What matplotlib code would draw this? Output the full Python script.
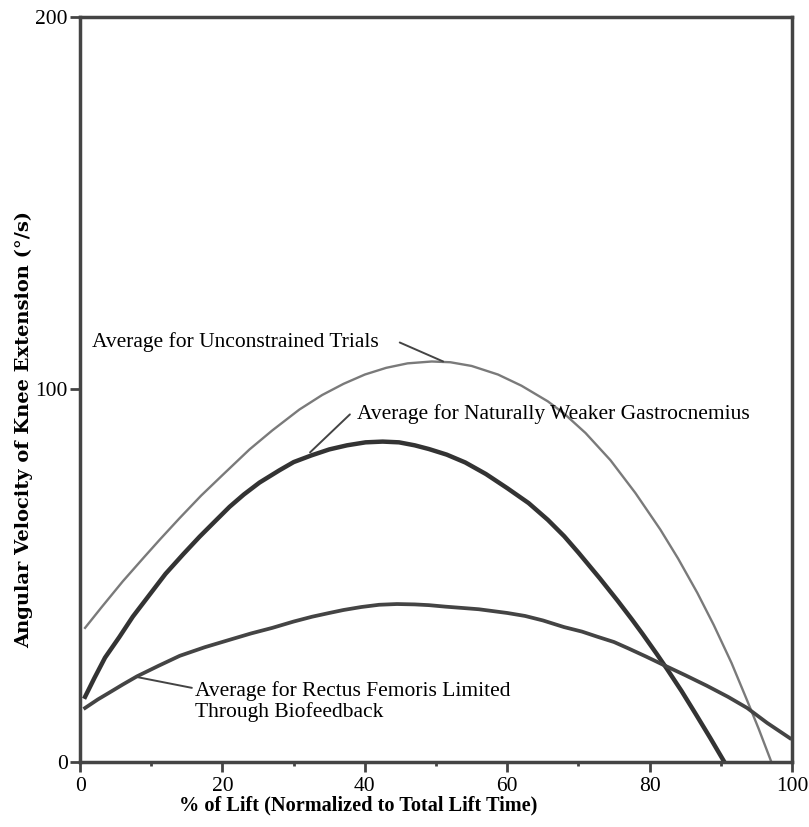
import matplotlib
matplotlib.use("Agg")
import matplotlib.pyplot as plt
from matplotlib.ticker import MultipleLocator

# curves (x = % of lift, y = deg/s)
unc_x = [0.7, 3, 6, 9, 11.2, 14, 17, 20, 23.8, 27, 30.8, 34, 37, 40, 43, 46, 49.4, 52,
         55, 58.7, 62, 65.7, 68, 71, 74.5, 78, 81.5, 84, 86.7, 89, 91.5, 93.7, 95.3, 97.1]
unc_y = [36, 41.5, 48.5, 55, 59.7, 65.5, 71.5, 77, 83.9, 89, 94.6, 98.5, 101.5, 104, 105.8,
         107, 107.5, 107.3, 106.3, 104, 101, 96.8, 93.5, 88.3, 81, 72.2, 62.4, 54.6, 45.4,
         36.8, 26.6, 16.5, 9, 0]

gas_x = [0.7, 2, 3.5, 5.5, 7.4, 10, 12, 14.5, 16.8, 19, 21, 23, 25.2, 28, 30, 32.5, 35,
         37.5, 40.1, 42.5, 44.8, 47, 49, 51.5, 54.1, 57, 60, 63, 65.7, 68, 70, 73, 75.5,
         77.5, 79, 81, 82.5, 84.5, 86.5, 88.5, 90.5]
gas_y = [17.5, 22.5, 28, 33.5, 39, 45.5, 50.5, 55.8, 60.5, 64.7, 68.5, 71.8, 75, 78.3, 80.5,
         82.3, 83.9, 85, 85.8, 86, 85.8, 85, 84, 82.5, 80.4, 77.3, 73.5, 69.5, 65, 60.6, 56.2,
         49.3, 43.3, 38.3, 34.4, 29, 24.8, 19, 12.8, 6.5, 0]

rec_x = [0.7, 2.5, 4, 6, 8, 11, 14, 17.5, 21, 24, 27, 30, 32.6, 35, 37, 39.5, 42, 44.5, 47,
         49, 51.3, 54, 56, 58, 60, 62.5, 65, 68, 70.5, 72.7, 75, 77, 79.5, 82, 85, 88, 91,
         93.7, 96.5, 99.7]
rec_y = [14.5, 16.8, 18.5, 20.8, 23, 25.8, 28.5, 30.8, 32.8, 34.5, 36, 37.7, 39, 40, 40.8,
         41.6, 42.2, 42.4, 42.3, 42.1, 41.7, 41.3, 41, 40.5, 40, 39.2, 38, 36.2, 35, 33.6,
         32.2, 30.5, 28.3, 26, 23.3, 20.5, 17.5, 14.5, 10.5, 6.4]

SERIF = ["Liberation Serif", "DejaVu Serif"]
INK = "#444444"

fig = plt.figure(figsize=(8.09, 8.27), dpi=100)
ax = fig.add_axes([0.099, 0.0786, 0.880, 0.901])

ax.plot(unc_x, unc_y, color="#7a7a7a", lw=1.7, solid_joinstyle="round")
ax.plot(gas_x, gas_y, color="#333333", lw=3.2, solid_joinstyle="round")
ax.plot(rec_x, rec_y, color=INK, lw=2.7, solid_joinstyle="round")

ax.set_xlim(0, 100)
ax.set_ylim(0, 200)
ax.xaxis.set_major_locator(MultipleLocator(20))
ax.xaxis.set_minor_locator(MultipleLocator(10))
ax.yaxis.set_major_locator(MultipleLocator(100))
ax.tick_params(which="major", direction="out", length=7, width=2, color=INK, labelsize=15.5)
ax.tick_params(axis="y", which="major", pad=2)
ax.tick_params(which="minor", direction="out", length=3, width=2, color=INK)
for lab in ax.get_xticklabels() + ax.get_yticklabels():
    lab.set_family(SERIF)
for sp in ax.spines.values():
    sp.set_linewidth(2.5)
    sp.set_color(INK)

ax.set_xlabel("% of Lift (Normalized to Total Lift Time)", family=SERIF,
              fontweight="bold", fontsize=14.6)
ax.xaxis.set_label_coords(0.39, -0.045)
ax.set_ylabel("Angular Velocity of Knee Extension (°/s)", family=["DejaVu Serif"],
              fontweight="bold", fontsize=14)
ax.yaxis.set_label_coords(-0.066, 0.446)

# annotation texts and their leader lines
lead = dict(arrowstyle="-", color=INK, lw=1.4, shrinkA=0, shrinkB=0)
ax.text(41.9, 112.6, "Average for Unconstrained Trials", ha="right", va="center",
        fontsize=15.5, family=SERIF)
ax.annotate("", xy=(51, 107.5), xytext=(44.9, 112.6), arrowprops=lead)

ax.text(38.9, 93.3, "Average for Naturally Weaker Gastrocnemius", ha="left", va="center",
        fontsize=15.5, family=SERIF)
ax.annotate("", xy=(32.3, 83.1), xytext=(37.9, 93.3), arrowprops=lead)

ax.text(16.2, 16.3, "Average for Rectus Femoris Limited\nThrough Biofeedback", ha="left",
        va="center", fontsize=15.5, family=SERIF, linespacing=1.07)
ax.annotate("", xy=(8, 22.8), xytext=(15.7, 19.9), arrowprops=lead)

fig.savefig("out.png", dpi=100)
